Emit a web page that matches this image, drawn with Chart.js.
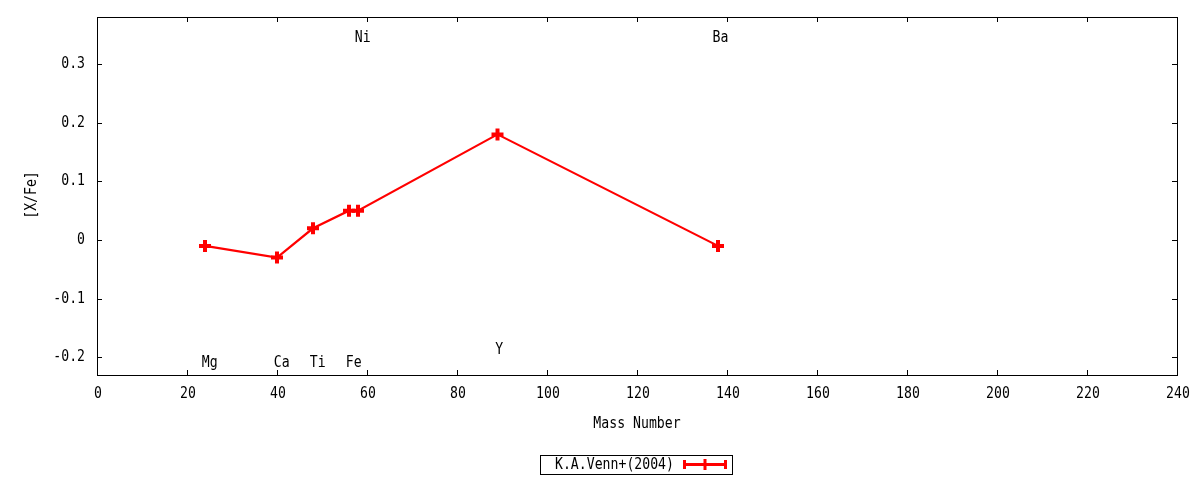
<!DOCTYPE html>
<html lang="en">
<head>
<meta charset="UTF-8">
<title>[X/Fe] vs Mass Number</title>
<script src="https://cdn.jsdelivr.net/npm/chart.js"></script>
<style>
    html, body { margin: 0; padding: 0; background: #fff; }
    #wrap { width: 1200px; height: 480px; }
</style>
</head>
<body>
<div id="wrap"><canvas id="grafico"></canvas></div>
<script>
    // series: K.A.Venn+(2004)
    const massNumber = [24, 40, 48, 56, 58, 89, 138];
    const xFe = [-0.01, -0.03, 0.02, 0.05, 0.05, 0.18, -0.01];

    // element labels (placed in data coordinates)
    const elemNames = ['Mg', 'Ca', 'Ti', 'Fe', 'Ni', 'Y', 'Ba'];
    const elemLabelX = [23.3, 39.3, 47.3, 55.3, 57.3, 88.5, 136.8];
    const elemLabelY = [-0.21, -0.21, -0.21, -0.21, 0.345, -0.188, 0.345];

    const xTicks = [0, 20, 40, 60, 80, 100, 120, 140, 160, 180, 200, 220, 240];
    const yTicks = [-0.2, -0.1, 0, 0.1, 0.2, 0.3];
    const yTickLabels = ['-0.2', '-0.1', '0', '0.1', '0.2', '0.3'];

    const seriesName = 'K.A.Venn+(2004)';
    const FONT = '15.5px "DejaVu Sans Mono", monospace';
    const SQUEEZE = 0.85;
    const RED = '#ff0000';

    // narrow text, like the original's condensed mono face
    function text(ctx, s, x, y, align) {
        ctx.save();
        ctx.translate(x, y);
        ctx.scale(SQUEEZE, 1);
        ctx.textAlign = align || 'left';
        ctx.fillText(s, 0, 0);
        ctx.restore();
    }

    const framePlugin = {
        id: 'frame',
        afterDatasetsDraw(chart) {
            const { ctx, chartArea: a, scales } = chart;
            ctx.save();
            ctx.strokeStyle = '#000';
            ctx.lineWidth = 1;
            ctx.strokeRect(a.left + 0.5, a.top + 0.5, a.right - a.left, a.bottom - a.top);
            ctx.beginPath();
            const t = 5;
            for (const v of xTicks) {
                const px = Math.round(scales.x.getPixelForValue(v)) + 0.5;
                ctx.moveTo(px, a.bottom); ctx.lineTo(px, a.bottom - t);
                ctx.moveTo(px, a.top); ctx.lineTo(px, a.top + t);
            }
            for (const v of yTicks) {
                const py = Math.round(scales.y.getPixelForValue(v)) + 0.5;
                ctx.moveTo(a.left, py); ctx.lineTo(a.left + t, py);
                ctx.moveTo(a.right, py); ctx.lineTo(a.right - t, py);
            }
            ctx.stroke();

            ctx.fillStyle = '#000';
            ctx.font = FONT;
            ctx.textBaseline = 'middle';

            // tick labels
            xTicks.forEach(v => text(ctx, String(v), scales.x.getPixelForValue(v) + 1, a.bottom + 19, 'center'));
            yTicks.forEach((v, i) => text(ctx, yTickLabels[i], a.left - 12, scales.y.getPixelForValue(v), 'right'));

            // element labels
            elemNames.forEach((n, i) => {
                text(ctx, n, scales.x.getPixelForValue(elemLabelX[i]), scales.y.getPixelForValue(elemLabelY[i]));
            });

            // axis titles
            text(ctx, 'Mass Number', (a.left + a.right) / 2, 424, 'center');
            ctx.save();
            ctx.translate(32, 195);
            ctx.rotate(-Math.PI / 2);
            text(ctx, '[X/Fe]', 0, 0, 'center');
            ctx.restore();

            // legend box
            ctx.strokeRect(540.5, 455.5, 192, 19);
            text(ctx, seriesName, 555, 465);
            ctx.strokeStyle = RED;
            ctx.lineWidth = 3;
            ctx.beginPath();
            ctx.moveTo(684, 464.5); ctx.lineTo(726, 464.5);
            ctx.moveTo(684.5, 460); ctx.lineTo(684.5, 469);
            ctx.moveTo(725.5, 460); ctx.lineTo(725.5, 469);
            ctx.moveTo(705, 459); ctx.lineTo(705, 470);
            ctx.stroke();
            ctx.restore();
        }
    };

    new Chart(document.getElementById('grafico'), {
        type: 'line',
        data: {
            datasets: [{
                label: seriesName,
                data: massNumber.map((m, i) => ({ x: m, y: xFe[i] })),
                borderColor: RED,
                backgroundColor: RED,
                borderWidth: 2.2,
                pointStyle: 'cross',
                pointRadius: 6,
                pointBorderWidth: 4,
                pointBorderColor: RED,
                fill: false,
                tension: 0
            }]
        },
        options: {
            responsive: true,
            maintainAspectRatio: false,
            animation: false,
            layout: { padding: { top: 17, right: 23, left: 0, bottom: 0 } },
            plugins: { legend: { display: false }, tooltip: { enabled: false } },
            scales: {
                x: {
                    type: 'linear',
                    min: 0, max: 240,
                    afterBuildTicks: s => { s.ticks = xTicks.map(v => ({ value: v })); },
                    afterFit: s => { s.height = 105; },
                    grid: { display: false, drawTicks: false },
                    border: { display: false },
                    ticks: { display: false }
                },
                y: {
                    type: 'linear',
                    min: -0.23, max: 0.38,
                    afterBuildTicks: s => { s.ticks = yTicks.map(v => ({ value: v })); },
                    afterFit: s => { s.width = 97; },
                    grid: { display: false, drawTicks: false },
                    border: { display: false },
                    ticks: { display: false }
                }
            }
        },
        plugins: [framePlugin]
    });
</script>
</body>
</html>
